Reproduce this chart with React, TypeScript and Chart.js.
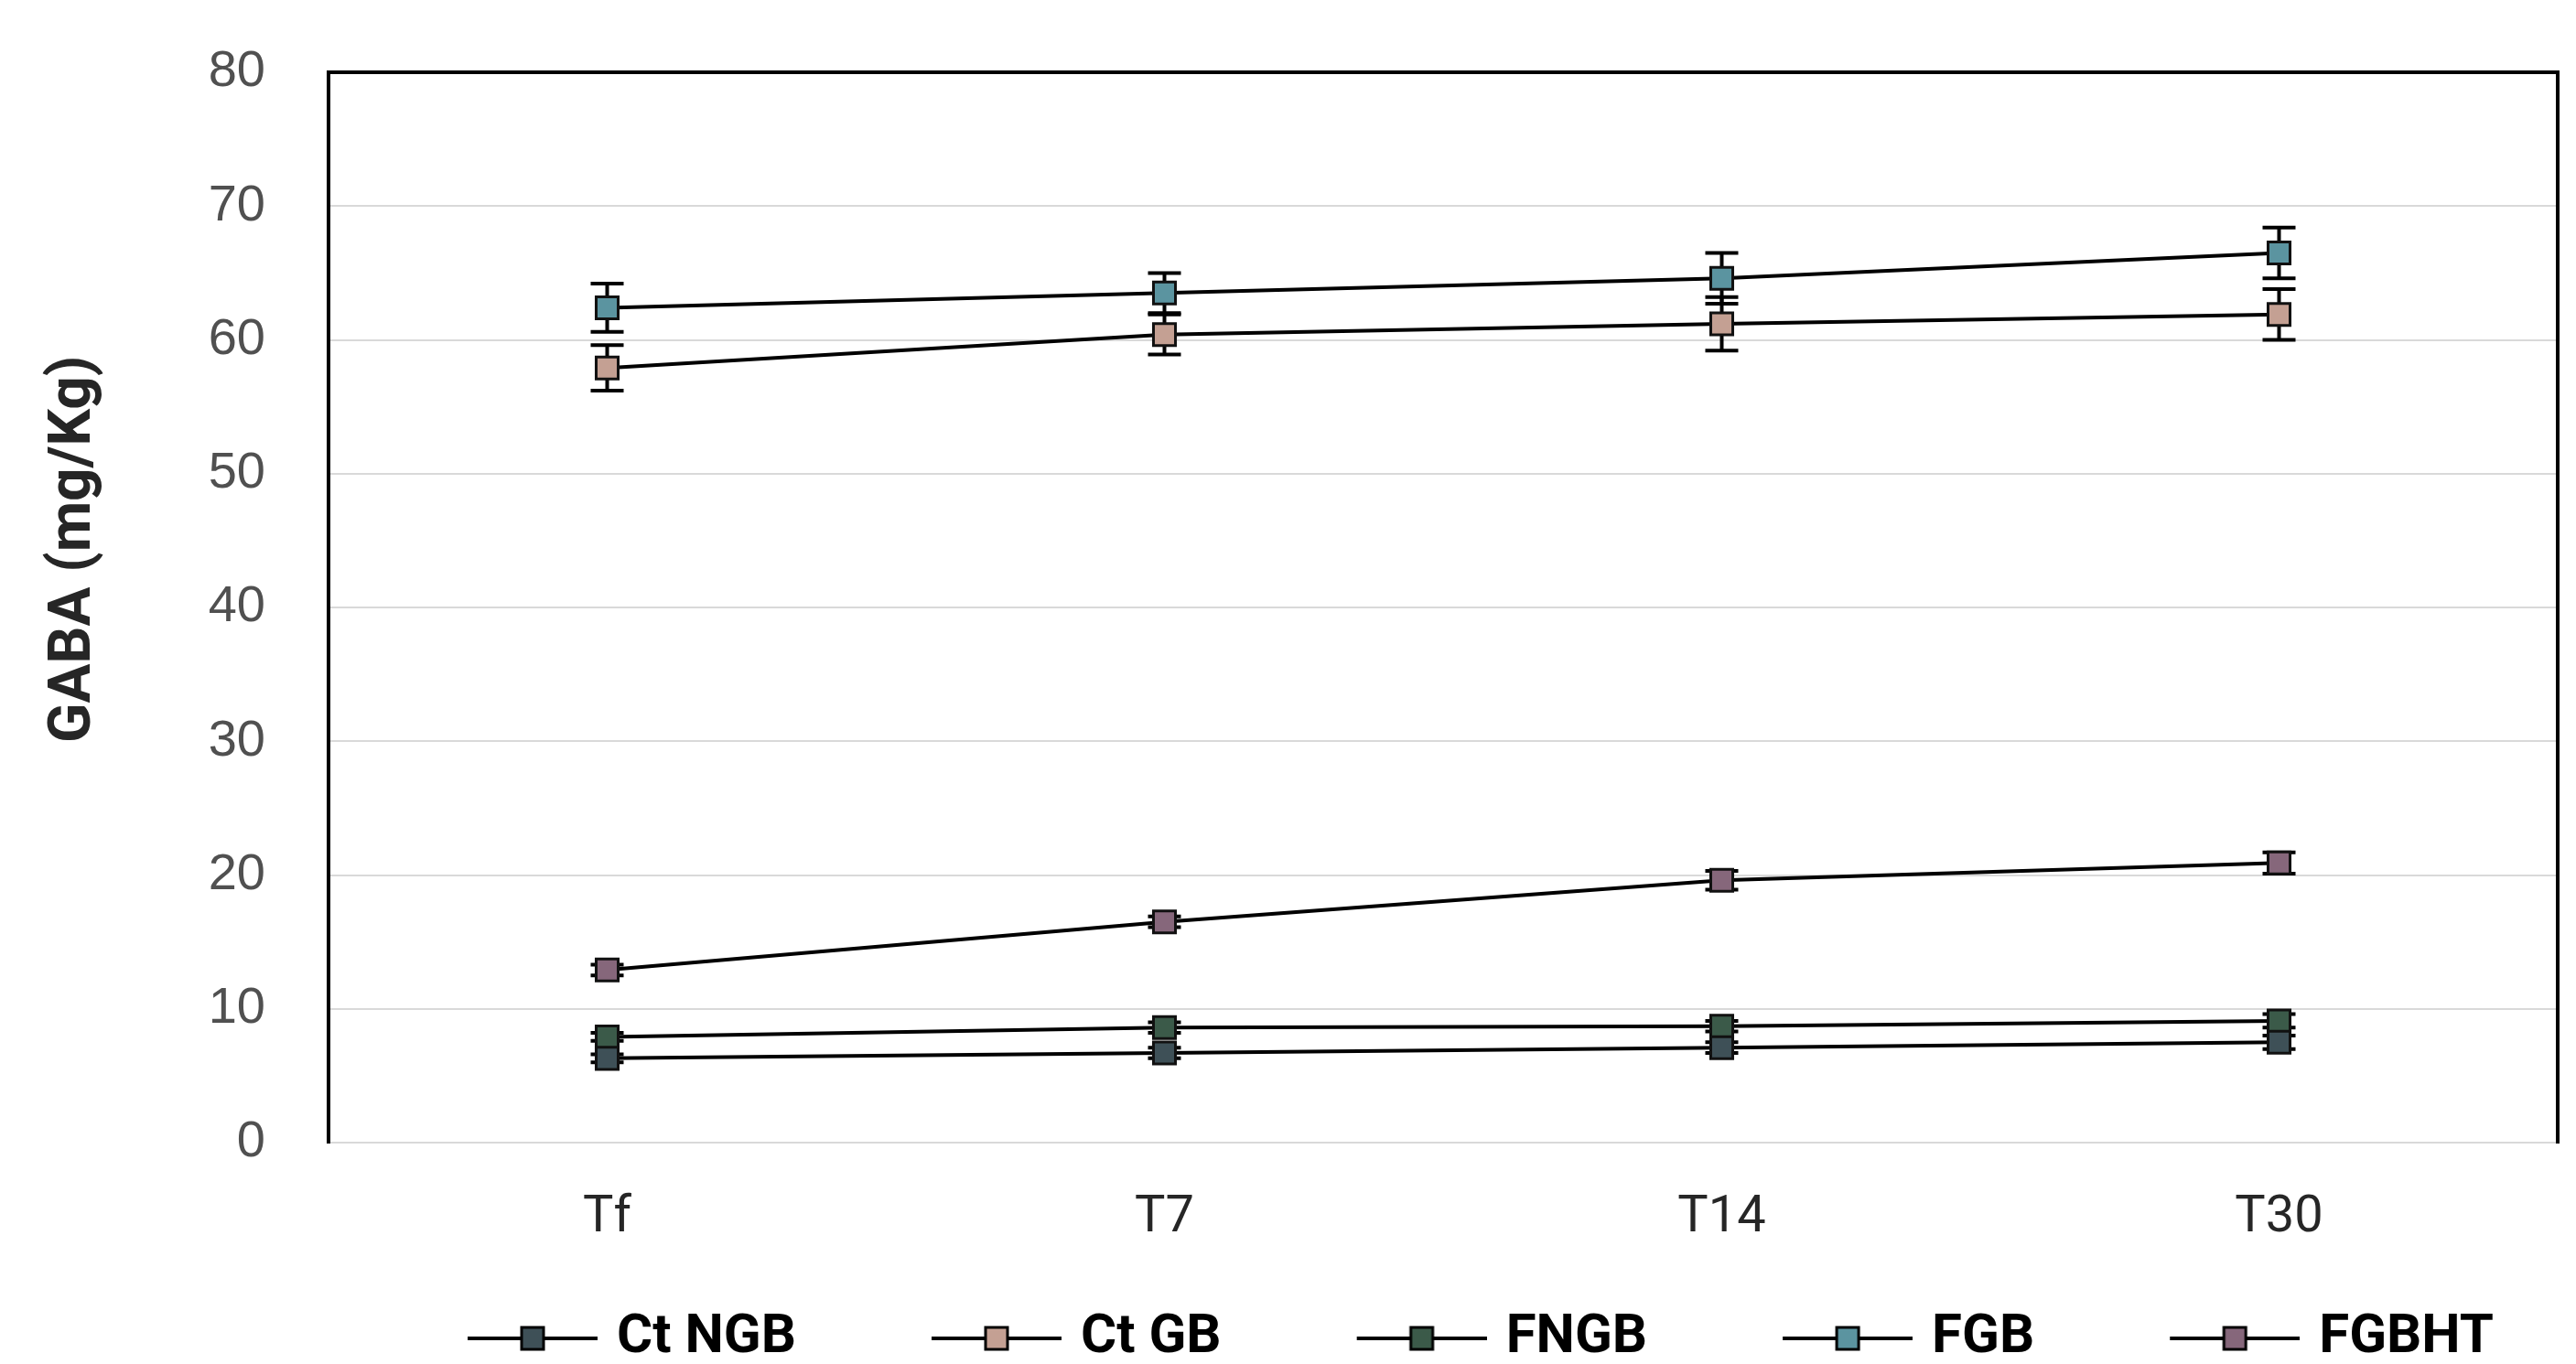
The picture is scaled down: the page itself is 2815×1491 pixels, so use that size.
import React, { useEffect, useRef } from 'react';
import { Chart, registerables } from 'chart.js';

Chart.register(...registerables);

// ---- data ----
const categories = ['Tf', 'T7', 'T14', 'T30'];
const seriesNames = ['Ct NGB', 'Ct GB', 'FNGB', 'FGB', 'FGBHT'];

const ctNGB = [6.3, 6.7, 7.1, 7.5];
const ctNGBErr = [0.3, 0.4, 0.4, 0.5];
const ctGB = [57.9, 60.4, 61.2, 61.9];
const ctGBErr = [1.7, 1.5, 2.0, 1.9];
const fNGB = [7.9, 8.6, 8.7, 9.1];
const fNGBErr = [0.3, 0.4, 0.4, 0.5];
const fGB = [62.4, 63.5, 64.6, 66.5];
const fGBErr = [1.8, 1.5, 1.9, 1.9];
const fGBHT = [12.9, 16.5, 19.6, 20.9];
const fGBHTErr = [0.4, 0.4, 0.7, 0.8];

const yMin = 0;
const yMax = 80;
const yStep = 10;
const yTitle = 'GABA (mg/Kg)';

const seriesValues = [ctNGB, ctGB, fNGB, fGB, fGBHT];
const seriesErrors = [ctNGBErr, ctGBErr, fNGBErr, fGBErr, fGBHTErr];
const seriesFills = ['#3e5057', '#c4a093', '#3b5a49', '#5b94a0', '#86677b'];

const BOLD_FONT = "Roboto, 'Liberation Sans', Arial, sans-serif";
const REGULAR = "'Liberation Sans', Arial, sans-serif";

// legend geometry
const LEGEND_PAD = 66;
const LEGEND_BOX = 215;
const LEGEND_IMG = LEGEND_BOX + 18;

const errorBarPlugin = {
  id: 'errorBars',
  beforeDatasetsDraw(chart: any) {
    const ctx = chart.ctx;
    const yScale = chart.scales.y;
    chart.data.datasets.forEach((ds: any, i: number) => {
      const meta = chart.getDatasetMeta(i);
      const errs = seriesErrors[i];
      meta.data.forEach((pt: any, j: number) => {
        const v = ds.data[j];
        const e = errs[j];
        const x = pt.x;
        const yTop = yScale.getPixelForValue(v + e);
        const yBot = yScale.getPixelForValue(v - e);
        ctx.save();
        ctx.strokeStyle = '#000';
        ctx.lineWidth = 4;
        ctx.beginPath();
        ctx.moveTo(x, yTop);
        ctx.lineTo(x, yBot);
        ctx.moveTo(x - 18, yTop);
        ctx.lineTo(x + 18, yTop);
        ctx.moveTo(x - 18, yBot);
        ctx.lineTo(x + 18, yBot);
        ctx.stroke();
        ctx.restore();
      });
    });
  },
};

function makeLegendIcon(fill: string) {
  const c = document.createElement('canvas');
  c.width = LEGEND_IMG;
  c.height = 32;
  const g = c.getContext('2d')!;
  const x0 = LEGEND_IMG - 142;
  g.strokeStyle = '#000';
  g.lineWidth = 4;
  g.beginPath();
  g.moveTo(x0, 16);
  g.lineTo(LEGEND_IMG, 16);
  g.stroke();
  g.fillStyle = fill;
  const mx = x0 + 71 - 12;
  g.fillRect(mx, 4, 24, 24);
  g.lineWidth = 3;
  g.strokeRect(mx, 4, 24, 24);
  return c;
}

export default function App() {
  const ref = useRef<HTMLCanvasElement>(null);

  useEffect(() => {
    if (!ref.current) return;
    const icons = seriesFills.map((f) => makeLegendIcon(f));
    const datasets = seriesNames.map((name, i) => ({
      label: name,
      data: seriesValues[i],
      borderColor: '#000',
      borderWidth: 4,
      backgroundColor: seriesFills[i],
      pointStyle: 'rect' as const,
      pointRadius: 17,
      pointHoverRadius: 17,
      pointBackgroundColor: seriesFills[i],
      pointBorderColor: '#111',
      pointBorderWidth: 3,
      tension: 0,
      fill: false,
    }));

    const chart = new Chart(ref.current, {
      type: 'line',
      data: { labels: categories, datasets },
      plugins: [errorBarPlugin],
      options: {
        animation: false,
        responsive: false,
        devicePixelRatio: 1,
        layout: { padding: { left: 0, right: 0, top: 79, bottom: -12 } },
        plugins: {
          tooltip: { enabled: false },
          legend: {
            position: 'bottom',
            fullSize: false,
            labels: {
              usePointStyle: true,
              pointStyleWidth: LEGEND_BOX,
              padding: LEGEND_PAD,
              color: '#262626',
              font: { family: BOLD_FONT, size: 60, weight: 'bold' },
              generateLabels: (ch: any) =>
                ch.data.datasets.map((ds: any, i: number) => ({
                  text: ds.label,
                  pointStyle: icons[i],
                  fillStyle: seriesFills[i],
                  strokeStyle: '#000',
                  lineWidth: 0,
                  hidden: false,
                  datasetIndex: i,
                })),
            },
          },
        },
        scales: {
          x: {
            type: 'category',
            offset: true,
            grid: { display: false, drawTicks: false },
            border: { display: false },
            ticks: {
              padding: 49,
              color: '#262626',
              font: { family: "Roboto, 'Liberation Sans', sans-serif", size: 56 },
            },
            afterFit: (s: any) => {
              s.height = 118;
            },
          },
          y: {
            type: 'linear',
            position: 'left',
            min: yMin,
            max: yMax,
            ticks: {
              stepSize: yStep,
              padding: 10,
              color: '#505050',
              font: { family: REGULAR, size: 56 },
            },
            grid: {
              drawTicks: true,
              tickLength: 59,
              tickColor: 'rgba(0,0,0,0)',
              color: (c: any) => (c.tick && c.tick.value === yMax ? '#000' : '#d9d9d9'),
              lineWidth: (c: any) => (c.tick && c.tick.value === yMax ? 4 : 2),
            },
            border: { display: true, color: '#000', width: 4 },
            title: {
              display: true,
              text: '        ' + yTitle,
              color: '#262626',
              font: { family: BOLD_FONT, size: 64, weight: 'bold' },
              padding: { top: 44, bottom: 0 },
            },
            afterFit: (s: any) => {
              s.width = 359;
            },
          },
          y2: {
            type: 'linear',
            position: 'right',
            min: yMin,
            max: yMax,
            ticks: { display: false },
            grid: { display: false, drawTicks: false },
            border: { display: true, color: '#000', width: 4 },
            afterFit: (s: any) => {
              s.width = 14;
            },
          },
        },
      } as any,
    });
    return () => chart.destroy();
  }, []);

  return (
    <div style={{ position: 'absolute', left: 0, top: 0, width: 2815, height: 1491, background: '#fff' }}>
      <canvas ref={ref} width={2815} height={1491} style={{ display: 'block' }} />
    </div>
  );
}
